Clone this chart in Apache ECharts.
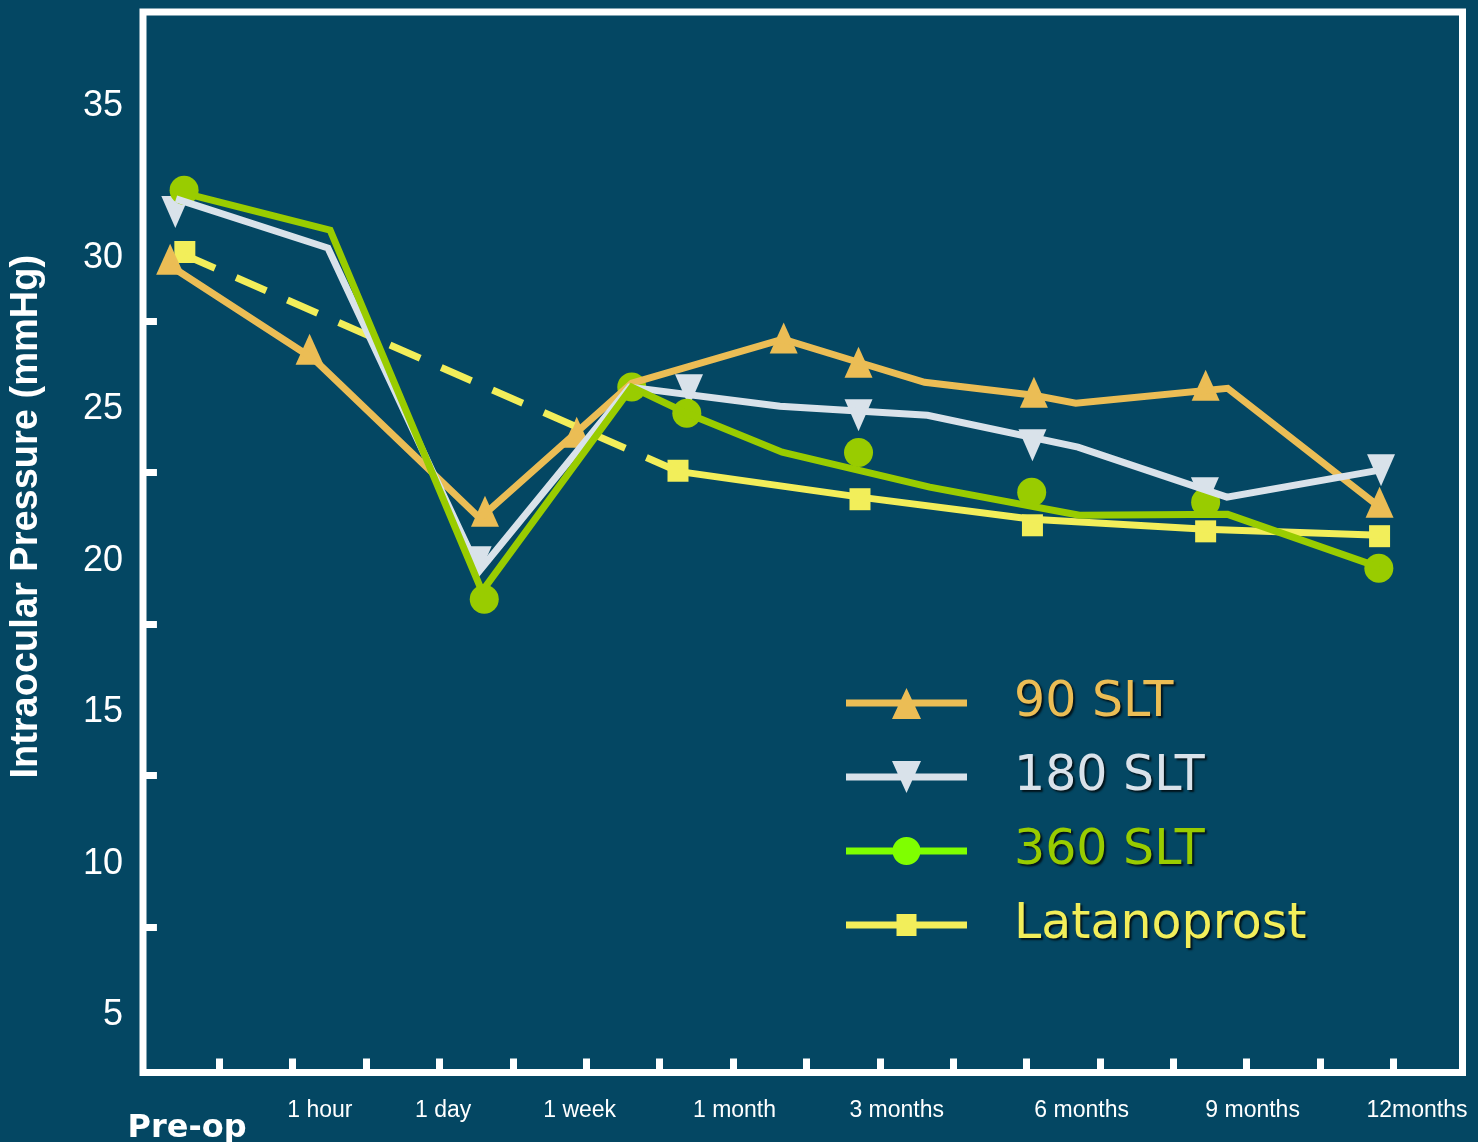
<!DOCTYPE html>
<html>
<head>
<meta charset="utf-8">
<title>Intraocular Pressure after SLT</title>
<script src="https://cdn.jsdelivr.net/npm/echarts@6/dist/echarts.min.js"></script>
<style>
  html, body { margin: 0; padding: 0; background: #044763; }
  #chart { width: 1478px; height: 1142px; }
</style>
</head>
<body>
<div id="chart"></div>
<script>
// x = position along the time axis (one unit per tick mark), y = IOP in mmHg
const xLabelPos = [0.56, 2.37, 4.05, 5.91, 8.02, 10.23, 12.75, 15.08, 17.32]
const xLabelText = ['Pre-op', '1 hour', '1 day', '1 week', '1 month', '3 months', '6 months', '9 months', '12months']
const xTicks = [1, 2, 3, 4, 5, 6, 7, 8, 9, 10, 11, 12, 13, 14, 15, 16, 17]
const yLabels = [5, 10, 15, 20, 25, 30, 35]
const yTicks = [7.8, 12.8, 17.8, 22.8, 27.8]

// 90 SLT
const slt90Line = [[0.34, 29.61], [2.29, 26.54], [4.55, 21.29], [6.62, 25.75], [8.68, 27.20], [9.71, 26.44],
  [10.61, 25.78], [12.10, 25.35], [12.67, 25.09], [14.74, 25.58], [16.81, 21.66]]
const slt90Marks = [[0.33, 29.84], [2.23, 26.87], [4.62, 21.52], [5.87, 24.13], [8.69, 27.24], [9.71, 26.44],
  [12.10, 25.45], [14.44, 25.68], [16.81, 21.82]]

// 180 SLT
const slt180Line = [[0.41, 31.83], [2.48, 30.21], [4.54, 19.54], [6.59, 25.62], [8.64, 24.99], [10.65, 24.69],
  [12.70, 23.64], [14.73, 21.99], [16.81, 22.88]]
const slt180Marks = [[0.40, 31.40], [4.52, 19.84], [7.40, 25.52], [9.71, 24.69], [12.08, 23.70], [14.43, 22.12], [16.83, 22.88]]

// 360 SLT
const slt360Line = [[0.52, 32.02], [2.51, 30.80], [4.58, 18.88], [6.62, 25.62], [7.37, 24.76], [8.67, 23.47],
  [10.68, 22.32], [12.72, 21.39], [14.74, 21.42], [16.81, 19.67]]
const slt360Marks = [[0.52, 32.12], [4.61, 18.62], [6.62, 25.62], [7.37, 24.76], [9.71, 23.46], [12.07, 22.15],
  [14.44, 21.82], [16.80, 19.64]]

// Latanoprost (first stretch dashed)
const latanoDashed = [[0.53, 29.98], [7.25, 22.84]]
const latanoLine = [[7.25, 22.84], [9.73, 21.99], [12.08, 21.26], [14.44, 20.93], [16.81, 20.73]]
const latanoMarks = [[0.53, 30.08], [7.25, 22.86], [9.73, 21.92], [12.08, 21.06], [14.44, 20.86], [16.81, 20.70]]

const cOrange = '#ebbd55'
const cWhite = '#d9e2ea'
const cGreen = '#99cc00'
const cYellow = '#f2ee5a'

// legend icons: line + marker, corners pinned so every icon keeps the same box
const corners = 'M0,0L0.1,0L0,0.1Z M121,32L120.9,32L121,31.9Z '
const bar = 'M0,12.5L121,12.5L121,19.5L0,19.5Z '
const iconUp = 'path://' + corners + bar + 'M46,32L60.5,1L75,32Z'
const iconDown = 'path://' + corners + bar + 'M46,0L75,0L60.5,32Z'
const iconCircle = 'path://' + corners + bar + 'M46.5,16A14,14 0 1 1 74.5,16A14,14 0 1 1 46.5,16Z'
const iconSquare = 'path://' + corners + bar + 'M50.5,5L70.5,5L70.5,27L50.5,27Z'

const chart = echarts.init(document.getElementById('chart'))

function lineSeries (name, data, color, type) {
  return {
    name: name,
    type: 'line',
    data: data,
    symbol: 'none',
    silent: true,
    lineStyle: { color: color, width: 7, type: type || 'solid', join: 'miter' },
    itemStyle: { color: color }
  }
}

function markSeries (name, data, color, symbol, size, rotate) {
  return {
    name: name,
    type: 'scatter',
    data: data,
    symbol: symbol,
    symbolSize: size,
    symbolRotate: rotate || 0,
    silent: true,
    itemStyle: { color: color, opacity: 1 }
  }
}

const option = {
  backgroundColor: '#044763',
  animation: false,
  grid: {
    show: true,
    left: 143,
    top: 12,
    width: 1319.5,
    height: 1060.5,
    borderColor: '#ffffff',
    borderWidth: 7,
    backgroundColor: 'transparent',
    containLabel: false,
    outerBoundsMode: 'none'
  },
  legend: {
    orient: 'vertical',
    left: 846,
    top: 671,
    padding: 0,
    itemWidth: 121,
    itemHeight: 32,
    itemGap: 10,
    selectedMode: false,
    itemStyle: { borderWidth: 0 },
    textStyle: {
      fontSize: 49,
      fontFamily: 'DejaVu Sans',
      lineHeight: 48,
      padding: [16, 0, 0, 42],
      textShadowColor: 'rgba(0,0,0,0.75)',
      textShadowBlur: 2,
      textShadowOffsetX: 2,
      textShadowOffsetY: 2
    },
    data: [
      { name: '90 SLT', icon: iconUp, itemStyle: { color: cOrange, borderWidth: 0 }, textStyle: { color: cOrange } },
      { name: '180 SLT', icon: iconDown, itemStyle: { color: cWhite, borderWidth: 0 }, textStyle: { color: cWhite } },
      { name: '360 SLT', icon: iconCircle, itemStyle: { color: '#7fff00', borderWidth: 0 }, textStyle: { color: cGreen } },
      { name: 'Latanoprost', icon: iconSquare, itemStyle: { color: cYellow, borderWidth: 0 }, textStyle: { color: cYellow } }
    ]
  },
  xAxis: {
    type: 'value',
    min: -0.04,
    max: 17.94,
    axisLine: { show: false },
    splitLine: { show: false },
    axisTick: {
      show: true,
      inside: true,
      length: 14,
      customValues: xTicks,
      lineStyle: { color: '#ffffff', width: 7 }
    },
    axisLabel: {
      customValues: xLabelPos,
      margin: 27,
      color: '#ffffff',
      fontSize: 23,
      fontFamily: 'Liberation Sans',
      formatter: function (v) {
        let best = 0
        xLabelPos.forEach(function (p, i) {
          if (Math.abs(p - v) < Math.abs(xLabelPos[best] - v)) best = i
        })
        return best === 0 ? '{pre|' + xLabelText[0] + '}' : xLabelText[best]
      },
      rich: {
        pre: {
          color: '#ffffff',
          fontSize: 32,
          fontWeight: 'bold',
          fontFamily: 'DejaVu Sans',
          padding: [13, 0, 0, 0]
        }
      }
    }
  },
  yAxis: {
    type: 'value',
    min: 3,
    max: 38,
    name: 'Intraocular Pressure (mmHg)',
    nameLocation: 'middle',
    nameRotate: 90,
    nameGap: 97,
    nameTextStyle: {
      color: '#ffffff',
      fontSize: 38,
      fontWeight: 'bold',
      fontFamily: 'Liberation Sans',
      padding: [0, 0, 0, 51]
    },
    axisLine: { show: false },
    splitLine: { show: false },
    axisTick: {
      show: true,
      inside: true,
      length: 11,
      customValues: yTicks,
      lineStyle: { color: '#ffffff', width: 7 }
    },
    axisLabel: {
      customValues: yLabels,
      margin: 20,
      formatter: function (v) { return '{n|' + v + '}' },
      rich: {
        n: {
          color: '#ffffff',
          fontSize: 36,
          fontFamily: 'Liberation Sans',
          padding: [7, 0, 0, 0]
        }
      }
    }
  },
  series: [
    lineSeries('Latanoprost', latanoDashed, cYellow, [33, 23]),
    lineSeries('Latanoprost', latanoLine, cYellow),
    lineSeries('90 SLT', slt90Line, cOrange),
    lineSeries('180 SLT', slt180Line, cWhite),
    lineSeries('360 SLT', slt360Line, cGreen),
    markSeries('Latanoprost', latanoMarks, cYellow, 'rect', [21, 22]),
    markSeries('90 SLT', slt90Marks, cOrange, 'triangle', [28, 31]),
    markSeries('180 SLT', slt180Marks, cWhite, 'triangle', [28, 32], 180),
    markSeries('360 SLT', slt360Marks, cGreen, 'circle', 29)
  ]
}

chart.setOption(option)
</script>
</body>
</html>
